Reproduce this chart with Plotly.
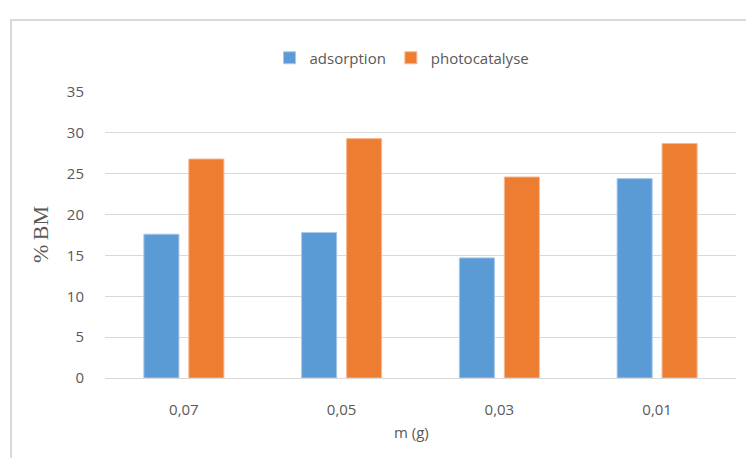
import plotly.graph_objects as go

categories = ["0,07", "0,05", "0,03", "0,01"]
adsorption = [17.6, 17.8, 14.7, 24.4]
photocatalyse = [26.8, 29.3, 24.6, 28.7]
y_ticks = [0, 5, 10, 15, 20, 25, 30, 35]

W, H = 746, 458
ml, mr, mt, mb = 105, 10, 92, 80

fig = go.Figure()
fig.add_trace(go.Bar(x=categories, y=adsorption, name="adsorption",
                     marker=dict(color="#5b9bd5", line=dict(color="#a9c8ea", width=1))))
fig.add_trace(go.Bar(x=categories, y=photocatalyse, name="photocatalyse",
                     marker=dict(color="#ed7d31", line=dict(color="#f5b995", width=1))))

pw = W - ml - mr
ph = H - mt - mb
# chart border (light gray)
fig.add_shape(type="rect", xref="paper", yref="paper",
              x0=(11 - ml) / pw, x1=(W + 20 - ml) / pw,
              y0=(H - mb - (H + 20)) / ph, y1=(H - mb - 20) / ph,
              line=dict(color="#d9d9d9", width=2), fillcolor="rgba(0,0,0,0)", layer="below")

fig.add_annotation(text="m (g)", xref="paper", yref="paper",
                   x=(411 - ml) / pw, y=(H - mb - 432) / ph, showarrow=False,
                   font=dict(family="Open Sans", size=15, color="#595959"),
                   xanchor="center", yanchor="middle")
fig.add_annotation(text="%\u2009BM", xref="paper", yref="paper",
                   x=(40 - ml) / pw, y=(H - mb - 235) / ph, showarrow=False, textangle=-90,
                   font=dict(family="Liberation Serif", size=22, color="#595959"),
                   xanchor="center", yanchor="middle")

fig.update_layout(
    width=W, height=H,
    margin=dict(l=ml, r=mr, t=mt, b=mb),
    paper_bgcolor="white", plot_bgcolor="white",
    barmode="group", bargap=0.43, bargroupgap=0.22,
    legend=dict(orientation="h", x=(402 - ml) / pw, xanchor="center",
                y=(H - mb - 58) / ph, yanchor="middle",
                font=dict(family="Open Sans", size=15, color="#595959"),
                itemwidth=30, traceorder="normal"),
    xaxis=dict(showgrid=False, showline=True, linecolor="#d9d9d9", linewidth=1,
               ticks="outside", ticklen=18, tickcolor="rgba(0,0,0,0)",
               tickfont=dict(family="Open Sans", size=15, color="#595959")),
    yaxis=dict(range=[0, 35], tickvals=y_ticks, showgrid=True, gridcolor="#d9d9d9",
               gridwidth=1, zeroline=False, showline=False,
               ticks="outside", ticklen=17, tickcolor="rgba(0,0,0,0)",
               tickfont=dict(family="Open Sans", size=15, color="#595959")),
)

fig.write_html("out.html")
